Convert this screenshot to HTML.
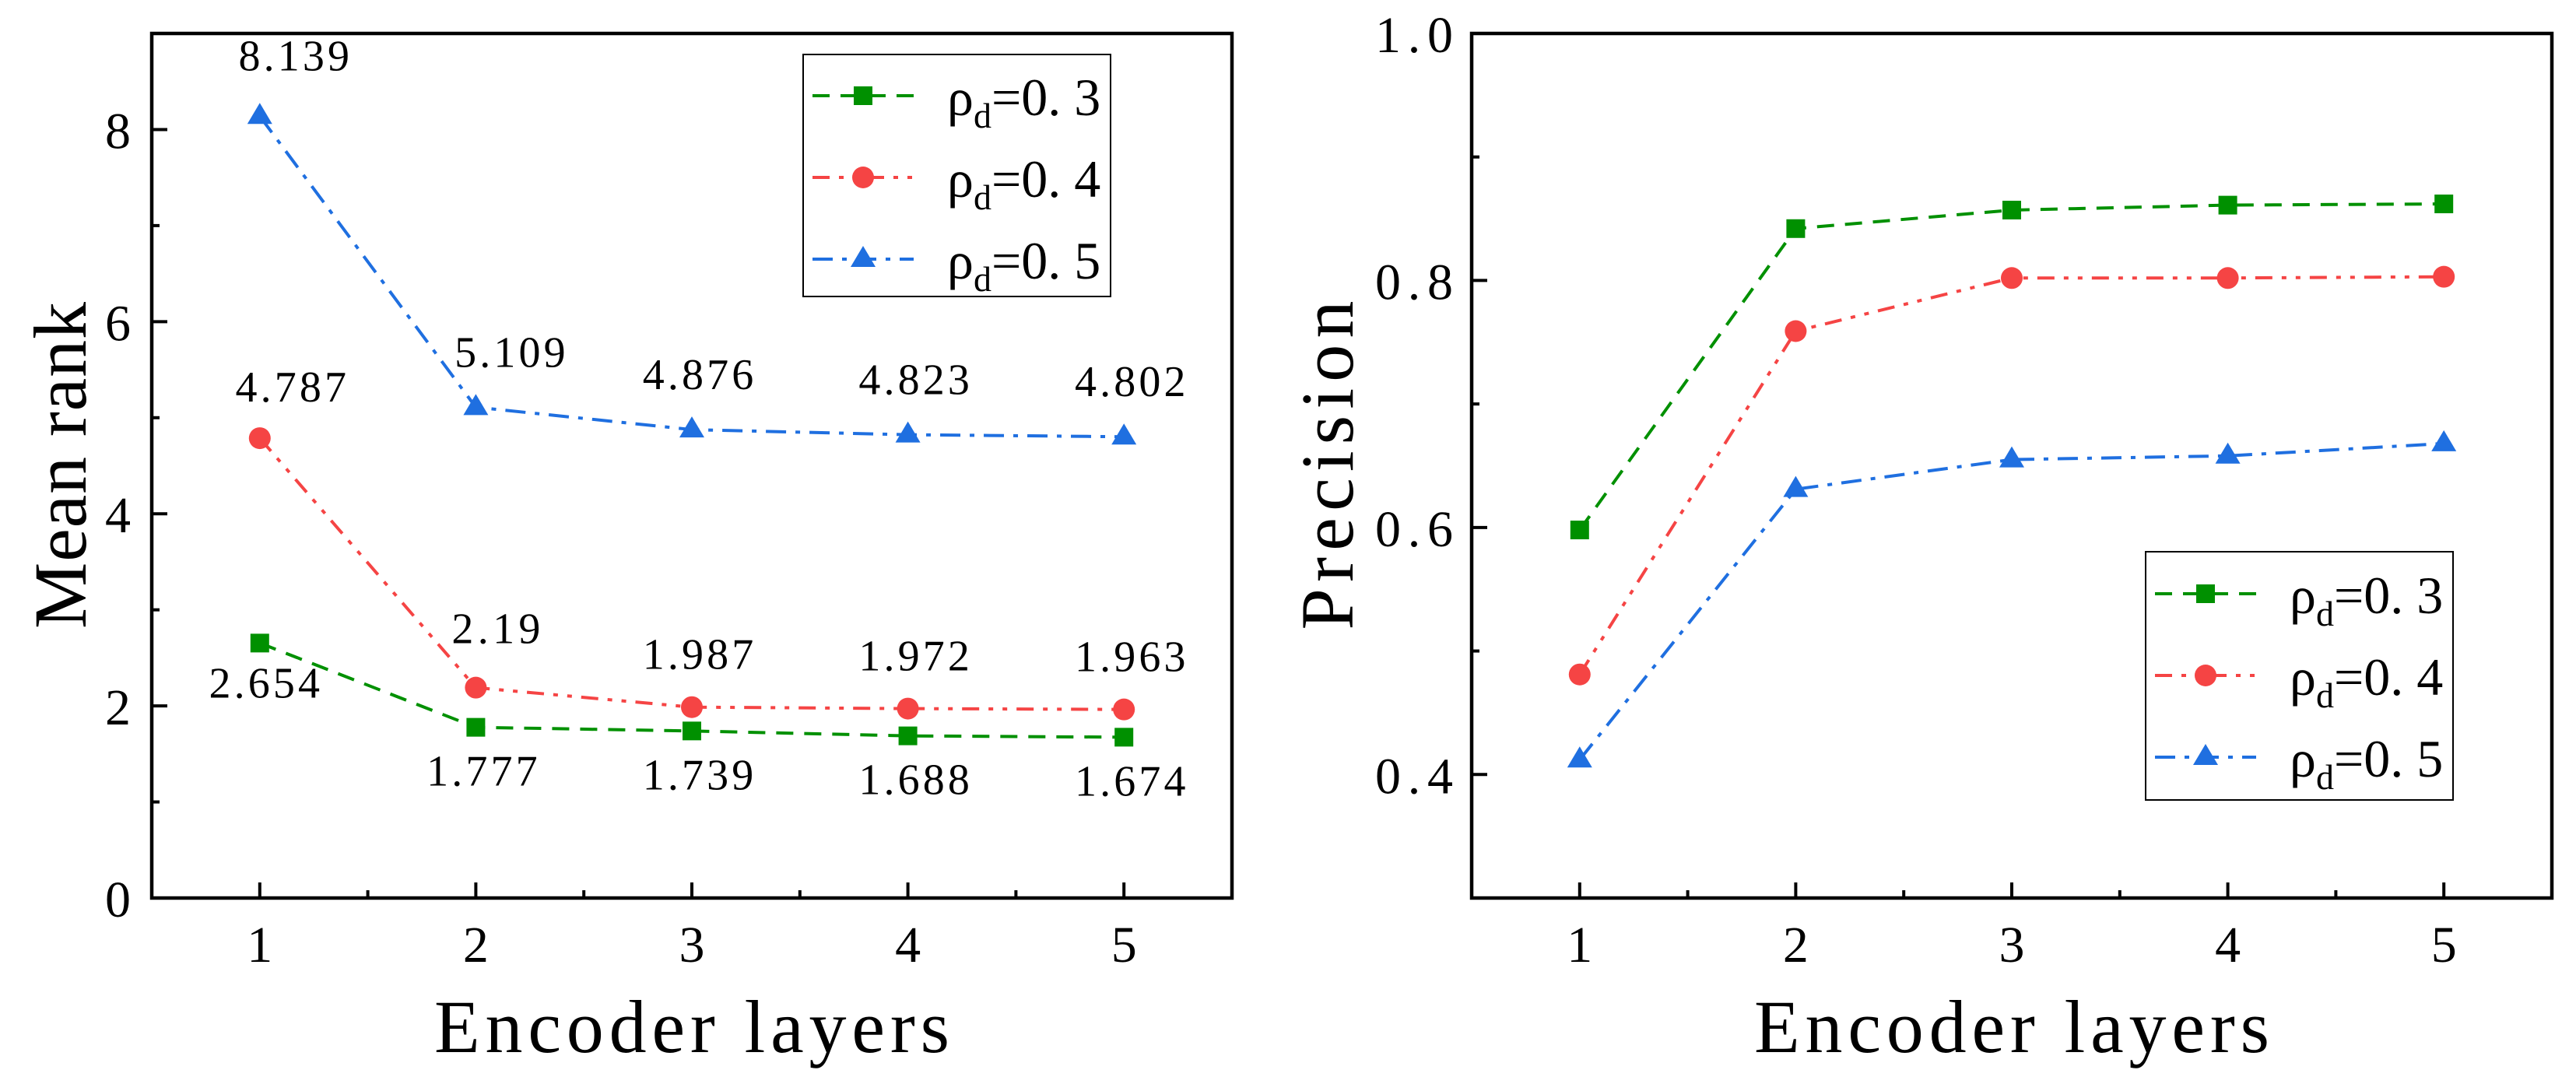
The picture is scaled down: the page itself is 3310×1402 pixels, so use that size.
<!DOCTYPE html>
<html><head><meta charset="utf-8"><style>
html,body{margin:0;padding:0;background:#fff;}
svg{display:block;font-family:"Liberation Serif","Noto Serif CJK SC",serif;}
</style></head><body>
<svg id="chart" width="3310" height="1402" viewBox="0 0 3310 1402" xmlns="http://www.w3.org/2000/svg"></svg>
<script>
const categories=[1,2,3,4,5];
const seriesNames=["ρd=0.3","ρd=0.4","ρd=0.5"];
const rankG=[2.654,1.777,1.739,1.688,1.674];
const rankR=[4.787,2.19,1.987,1.972,1.963];
const rankB=[8.139,5.109,4.876,4.823,4.802];
const rankLabelsG=["2.654","1.777","1.739","1.688","1.674"];
const rankLabelsR=["4.787","2.19","1.987","1.972","1.963"];
const rankLabelsB=["8.139","5.109","4.876","4.823","4.802"];
const precG=[0.598,0.842,0.857,0.861,0.862];
const precR=[0.481,0.759,0.802,0.802,0.803];
const precB=[0.412,0.631,0.655,0.658,0.668];
const rankTicks=[0,2,4,6,8];
const precTicks=[0.4,0.6,0.8,1.0];
const precTickLabels=["0.4","0.6","0.8","1.0"];

const NS="http://www.w3.org/2000/svg";
const svg=document.getElementById('chart');
function mk(tag,attrs,parent){const e=document.createElementNS(NS,tag);for(const k in attrs)e.setAttribute(k,attrs[k]);(parent||svg).appendChild(e);return e;}
const colors=["#009000","#f54444","#1f6fe0"];
const dashes=["22,14","22,12,6,12,6,12","26,12,6,12"];

function panel(p){
  const g=mk('g',{});
  
  
  const x=v=>p.x0+(v-0.5)/5*(p.x1-p.x0);
  const y=v=>p.y1-(v-p.ymin)/(p.ymax-p.ymin)*(p.y1-p.y0);
  // frame
  const fr=mk('rect',{x:p.x0,y:p.y0,width:p.x1-p.x0,height:p.y1-p.y0,fill:'none',stroke:'#000','stroke-width':4.5},g);
  
  
  // x ticks
  for(let i=0;i<categories.length;i++){
    const c=categories[i];
    mk('line',{x1:x(c),x2:x(c),y1:p.y1,y2:p.y1-20,stroke:'#000','stroke-width':4},g);
    if(i<categories.length-1) mk('line',{x1:x(c+0.5),x2:x(c+0.5),y1:p.y1,y2:p.y1-10,stroke:'#000','stroke-width':4},g);
    const t=mk('text',{x:x(c),y:1236,'font-size':66,'text-anchor':'middle'},g);
    t.textContent=String(c);
    
    
  }
  // y ticks
  for(let i=0;i<p.ticks.length;i++){
    const v=p.ticks[i];
    mk('line',{x1:p.x0,x2:p.x0+20,y1:y(v),y2:y(v),stroke:'#000','stroke-width':4},g);
    const mv=v+p.minor;
    if(mv<p.ymax) mk('line',{x1:p.x0,x2:p.x0+10,y1:y(mv),y2:y(mv),stroke:'#000','stroke-width':4},g);
    const t=mk('text',{x:p.labX,y:y(v)+24,'font-size':66,'text-anchor':'end'},g);
    t.textContent=p.tickLabels[i];
    if(p.tickLabels[i].length>1){t.setAttribute('textLength',100);t.setAttribute('lengthAdjust','spacing');}
    
    
  }
  if(p.minorBelow){const mv=p.ticks[0]-p.minor; if(mv>p.ymin) mk('line',{x1:p.x0,x2:p.x0+10,y1:y(mv),y2:y(mv),stroke:'#000','stroke-width':4},g);}
  // titles
  const xt=mk('text',{x:(p.x0+p.x1)/2,y:1352,'font-size':96,'text-anchor':'middle',textLength:662,lengthAdjust:'spacing'},g);
  xt.textContent='Encoder layers';
  
  
  const yt=mk('text',{x:0,y:0,'font-size':96,'text-anchor':'middle',textLength:p.ytLen,lengthAdjust:'spacing',transform:`translate(${p.ytX},598) rotate(-90)`},g);
  yt.textContent=p.ytitle;
  
  
  // series
  p.series.forEach((s,si)=>{
    const sg=mk('g',{},g);
    
    
    const pts=s.map((v,i)=>x(categories[i])+','+y(v)).join(' ');
    mk('polyline',{points:pts,fill:'none',stroke:colors[si],'stroke-width':4,'stroke-dasharray':dashes[si]},sg);
    s.forEach((v,i)=>{
      const m=marker(si,x(categories[i]),y(v),sg);
      
      
      if(p.labels){
        const off=p.labelOff[si][i];
        const t=mk('text',{x:x(categories[i])+off[0],y:y(v)+off[1],'font-size':56,'text-anchor':'middle',textLength:p.labels[si][i].length*28.5,lengthAdjust:'spacing'},sg);
        t.textContent=p.labels[si][i];
        
        
      }
    });
  });
  // legend
  const lg=mk('g',{},g);
  
  
  mk('rect',{x:p.lx,y:p.ly,width:395,height:p.lh,fill:'#fff',stroke:'#000','stroke-width':2},lg);
  seriesNames.forEach((n,si)=>{
    const cy=p.ly+p.lrow0+si*p.lrow;
    const e=mk('g',{},lg);
    
    
    mk('line',{x1:p.lx+12,x2:p.lx+142,y1:cy,y2:cy,stroke:colors[si],'stroke-width':4,'stroke-dasharray':dashes[si]},e);
    marker(si,p.lx+77,cy,e);
    const t=mk('text',{x:p.lx+185,y:cy+25,'font-size':68},e);
    t.innerHTML='ρ<tspan font-size="46" dy="16">d</tspan><tspan dy="-16">=0. '+n.slice(-1)+'</tspan>';
  });
}
function marker(si,cx,cy,par){
  if(si===0) return mk('rect',{x:cx-12,y:cy-12,width:24,height:24,fill:colors[0]},par);
  if(si===1) return mk('circle',{cx:cx,cy:cy,r:14,fill:colors[1]},par);
  return mk('polygon',{points:`${cx},${cy-17} ${cx-16},${cy+10} ${cx+16},${cy+10}`,fill:colors[2]},par);
}
const lo=(dx,dy)=>[dx,dy];
panel({name:'mean-rank-chart',x0:195,x1:1583,y0:43,y1:1154,ymin:0,ymax:9,ticks:rankTicks,tickLabels:rankTicks.map(String),minor:1,labX:168,
  ytitle:'Mean rank',ytX:110,ytLen:420,series:[rankG,rankR,rankB],
  labels:[rankLabelsG,rankLabelsR,rankLabelsB],
  labelOff:[[lo(6,70),lo(8,75),lo(8,75),lo(8,75),lo(8,75)],
            [lo(40,-47),lo(26,-57),lo(8,-49),lo(8,-49),lo(8,-49)],
            [lo(44,-59),lo(44,-52),lo(8,-52),lo(8,-52),lo(8,-52)]],
  lx:1032,ly:70,lh:311,lrow0:53,lrow:105});
panel({name:'precision-chart',x0:1891,x1:3279,y0:43,y1:1154,ymin:0.3,ymax:1.0,ticks:precTicks,tickLabels:precTickLabels,minor:0.1,labX:1867,minorBelow:false,
  ytitle:'Precision',ytX:1738,ytLen:423,series:[precG,precR,precB],labels:null,
  lx:2757,ly:709,lh:319,lrow0:54,lrow:105});
</script>
</body></html>
